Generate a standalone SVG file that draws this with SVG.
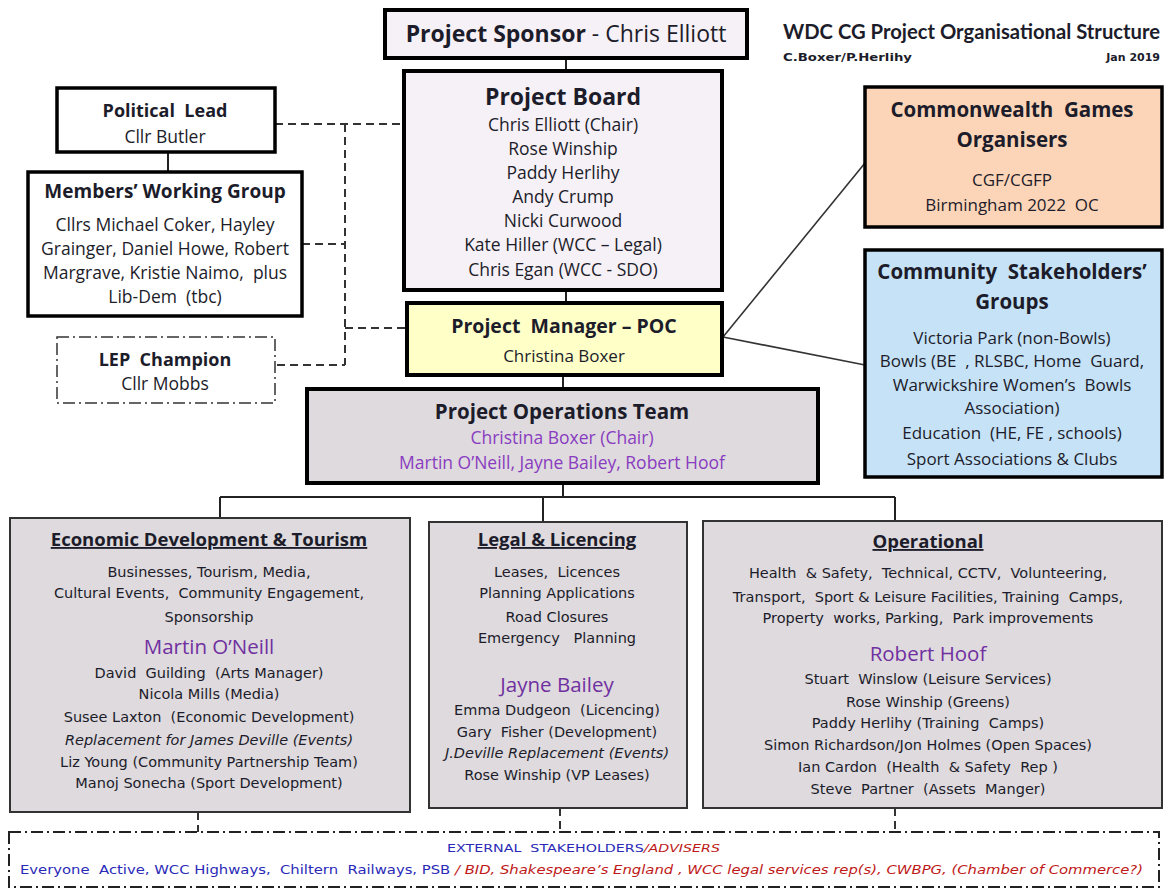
<svg xmlns="http://www.w3.org/2000/svg" width="1164" height="891" viewBox="0 0 1164 891">
<style>
text{font-family:"Open Sans","Liberation Sans",sans-serif;fill:#1c1c2a;text-anchor:middle;white-space:pre}
.b{font-weight:bold}
.t{font-size:17.5px}
.c{font-size:17px}
.h{font-size:18.5px;font-weight:bold}
.h2{font-size:20.5px;font-weight:bold}
.s{font-family:"DejaVu Sans",sans-serif;font-size:14.5px}
.p{fill:#7030a0;font-size:20.5px}
.pp{fill:#8a3cc0;font-size:17.5px}
.i{font-style:italic}
.u{text-decoration:underline}
.box{stroke:#000;stroke-width:4}
.thin{stroke:#333;stroke-width:2;fill:#dedade}
.conn line{stroke:#222;stroke-width:2;fill:none}
.conn .d{stroke-dasharray:8 5;stroke:#333}
.conn .l{stroke-width:1.6;stroke:#333}
.dd{stroke-dasharray:12 4 2 4}
.blue{fill:#2a2ab8}
.red{fill:#c01818;font-style:italic}
</style>
<rect width="1164" height="891" fill="#fff"/>
<g id="title">
<text x="1160" y="39" style="text-anchor:end;font-family:Lato,sans-serif;font-size:20px;font-weight:bold" textLength="377" lengthAdjust="spacingAndGlyphs">WDC CG Project Organisational Structure</text>
<text x="783" y="61" style="text-anchor:start;font-family:'DejaVu Sans',sans-serif;font-size:11px;font-weight:bold" textLength="129" lengthAdjust="spacingAndGlyphs">C.Boxer/P.Herlihy</text>
<text x="1160" y="61" style="text-anchor:end;font-family:'DejaVu Sans',sans-serif;font-size:11px;font-weight:bold">Jan 2019</text>
</g>
<g class="conn" id="connectors">
<line x1="566" y1="58" x2="566" y2="71"/>
<line x1="566" y1="290" x2="566" y2="303"/>
<line x1="563" y1="375" x2="563" y2="389"/>
<line x1="168" y1="152" x2="168" y2="172"/>
<line class="l" x1="723" y1="337" x2="865" y2="163"/>
<line class="l" x1="723" y1="337" x2="865" y2="365"/>
<line x1="563" y1="483" x2="563" y2="497"/>
<line x1="220" y1="497" x2="895" y2="497"/>
<line x1="220" y1="497" x2="220" y2="518"/>
<line x1="543" y1="497" x2="543" y2="522"/>
<line x1="895" y1="497" x2="895" y2="521"/>
<line class="d" x1="198" y1="812" x2="198" y2="832"/>
<line class="d" x1="560" y1="808" x2="560" y2="832"/>
<line class="d" x1="895" y1="808" x2="895" y2="832"/>
<line class="d" x1="275" y1="124" x2="404" y2="124"/>
<line class="d" x1="345" y1="124" x2="345" y2="365"/>
<line class="d" x1="302" y1="244" x2="345" y2="244"/>
<line class="d" x1="345" y1="328" x2="407" y2="328"/>
<line class="d" x1="277" y1="365" x2="345" y2="365"/>
</g>
<g id="sponsor">
<rect class="box" x="385" y="10" width="362" height="48" fill="#f6f1f6"/>
<text x="566" y="42" style="font-size:23px"><tspan class="b">Project Sponsor</tspan> - Chris Elliott</text>
</g>
<g id="board">
<rect class="box" x="404" y="71" width="318" height="219" fill="#f6f1f6"/>
<text x="563" y="105" class="b" style="font-size:23px">Project Board</text>
<text class="t" x="563" y="131">Chris Elliott (Chair)</text>
<text class="t" x="563" y="155">Rose Winship</text>
<text class="t" x="563" y="179">Paddy Herlihy</text>
<text class="t" x="563" y="203">Andy Crump</text>
<text class="t" x="563" y="227">Nicki Curwood</text>
<text class="t" x="563" y="251">Kate Hiller (WCC – Legal)</text>
<text class="t" x="563" y="276">Chris Egan (WCC - SDO)</text>
</g>
<g id="political-lead">
<rect class="box" x="57" y="88" width="218" height="64" fill="#fff" style="stroke-width:3.5"/>
<text class="h" x="165" y="117" style="font-size:18px">Political  Lead</text>
<text class="t" x="165" y="143">Cllr Butler</text>
</g>
<g id="members-working-group">
<rect class="box" x="28" y="172" width="274" height="144" fill="#fff" style="stroke-width:3.5"/>
<text class="h" x="165" y="198" style="font-size:19px">Members’ Working Group</text>
<text class="t" x="165" y="231">Cllrs Michael Coker, Hayley</text>
<text class="t" x="165" y="255">Grainger, Daniel Howe, Robert</text>
<text class="t" x="165" y="279">Margrave, Kristie Naimo,  plus</text>
<text class="t" x="165" y="303">Lib-Dem  (tbc)</text>
</g>
<g id="lep-champion">
<rect x="57" y="337" width="218" height="66" fill="#fff" stroke="#333" stroke-width="1.5" class="dd"/>
<text class="h" x="165" y="366" style="font-size:18px">LEP  Champion</text>
<text class="t" x="165" y="390">Cllr Mobbs</text>
</g>
<g id="project-manager">
<rect class="box" x="407" y="303" width="315" height="72" fill="#ffffc8"/>
<text class="h" x="564" y="333" style="font-size:19.5px">Project  Manager – POC</text>
<text class="t" x="564" y="362" style="font-size:17px">Christina Boxer</text>
</g>
<g id="operations-team">
<rect class="box" x="307" y="389" width="511" height="94" fill="#dedade"/>
<text class="h2" x="562" y="419">Project Operations Team</text>
<text class="pp" x="562" y="444">Christina Boxer (Chair)</text>
<text class="pp" x="562" y="469">Martin O’Neill, Jayne Bailey, Robert Hoof</text>
</g>
<g id="cg-organisers">
<rect class="box" x="865" y="87" width="297" height="140" fill="#fcd5b8" style="stroke-width:3.5"/>
<text class="h2" x="1012" y="117">Commonwealth  Games</text>
<text class="h2" x="1012" y="147">Organisers</text>
<text class="c" x="1012" y="186">CGF/CGFP</text>
<text class="c" x="1012" y="211">Birmingham 2022  OC</text>
</g>
<g id="community-stakeholders">
<rect class="box" x="865" y="250" width="297" height="227" fill="#c6e2f7" style="stroke-width:3.5"/>
<text class="h2" x="1012" y="279">Community  Stakeholders’</text>
<text class="h2" x="1012" y="309">Groups</text>
<text class="c" x="1012" y="344">Victoria Park (non-Bowls)</text>
<text class="c" x="1012" y="367">Bowls (BE  , RLSBC, Home  Guard,</text>
<text class="c" x="1012" y="391">Warwickshire Women’s  Bowls</text>
<text class="c" x="1012" y="414">Association)</text>
<text class="c" x="1012" y="439">Education  (HE, FE , schools)</text>
<text class="c" x="1012" y="465">Sport Associations &amp; Clubs</text>
</g>
<g id="economic-development">
<rect class="thin" x="10" y="518" width="400" height="294"/>
<text class="h u" x="209" y="546">Economic Development &amp; Tourism</text>
<text class="s" x="209" y="577">Businesses, Tourism, Media,</text>
<text class="s" x="209" y="598">Cultural Events,  Community Engagement,</text>
<text class="s" x="209" y="622">Sponsorship</text>
<text class="p" x="209" y="654">Martin O’Neill</text>
<text class="s" x="209" y="678">David  Guilding  (Arts Manager)</text>
<text class="s" x="209" y="699">Nicola Mills (Media)</text>
<text class="s" x="209" y="722">Susee Laxton  (Economic Development)</text>
<text class="s i" x="209" y="745">Replacement for James Deville (Events)</text>
<text class="s" x="209" y="767">Liz Young (Community Partnership Team)</text>
<text class="s" x="209" y="788">Manoj Sonecha (Sport Development)</text>
</g>
<g id="legal-licencing">
<rect class="thin" x="429" y="522" width="258" height="286"/>
<text class="h u" x="557" y="546">Legal &amp; Licencing</text>
<text class="s" x="557" y="577">Leases,  Licences</text>
<text class="s" x="557" y="598">Planning Applications</text>
<text class="s" x="557" y="622">Road Closures</text>
<text class="s" x="557" y="643">Emergency   Planning</text>
<text class="p" x="557" y="692">Jayne Bailey</text>
<text class="s" x="557" y="715">Emma Dudgeon  (Licencing)</text>
<text class="s" x="557" y="737">Gary  Fisher (Development)</text>
<text class="s i" x="557" y="758">J.Deville Replacement (Events)</text>
<text class="s" x="557" y="780">Rose Winship (VP Leases)</text>
</g>
<g id="operational">
<rect class="thin" x="703" y="521" width="459" height="287"/>
<text class="h u" x="928" y="548">Operational</text>
<text class="s" x="928" y="578">Health  &amp; Safety,  Technical, CCTV,  Volunteering,</text>
<text class="s" x="928" y="602">Transport,  Sport &amp; Leisure Facilities, Training  Camps,</text>
<text class="s" x="928" y="623">Property  works, Parking,  Park improvements</text>
<text class="p" x="928" y="661">Robert Hoof</text>
<text class="s" x="928" y="684">Stuart  Winslow (Leisure Services)</text>
<text class="s" x="928" y="707">Rose Winship (Greens)</text>
<text class="s" x="928" y="728">Paddy Herlihy (Training  Camps)</text>
<text class="s" x="928" y="750">Simon Richardson/Jon Holmes (Open Spaces)</text>
<text class="s" x="928" y="772">Ian Cardon  (Health  &amp; Safety  Rep )</text>
<text class="s" x="928" y="794">Steve  Partner  (Assets  Manger)</text>
</g>
<g id="external-stakeholders">
<rect x="9" y="832" width="1150" height="55" fill="#fff" stroke="#222" stroke-width="2" class="dd"/>
<text x="447" y="852" style="text-anchor:start;font-family:'DejaVu Sans',sans-serif;font-size:11px" textLength="273" lengthAdjust="spacingAndGlyphs"><tspan class="blue">EXTERNAL  STAKEHOLDERS</tspan><tspan class="red">/ADVISERS</tspan></text>
<text x="20" y="874" style="text-anchor:start;font-family:'DejaVu Sans',sans-serif;font-size:12.5px" textLength="1123" lengthAdjust="spacingAndGlyphs"><tspan class="blue">Everyone  Active, WCC Highways,  Chiltern  Railways, PSB </tspan><tspan class="red">/ BID, Shakespeare’s England , WCC legal services rep(s), CWBPG, (Chamber of Commerce?)</tspan></text>
</g>
</svg>
